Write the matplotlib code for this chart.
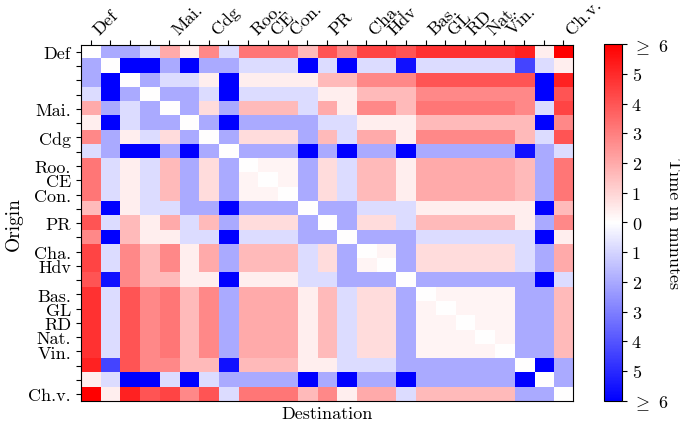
import numpy as np
import matplotlib
matplotlib.use("Agg")
from matplotlib import pyplot as plt

plt.rcParams['font.family'] = 'serif'
plt.rcParams['font.serif'] = ['cmr10', 'DejaVu Serif']
plt.rcParams['mathtext.fontset'] = 'cm'
plt.rcParams['axes.unicode_minus'] = False

# station labels (empty = unlabeled row/column)
stations = ['Def', '', '', '', 'Mai.', '', 'Cdg', '', 'Roo.', 'CE', 'Con.', '', 'PR', '',
            'Cha.', 'Hdv', '', 'Bas.', 'GL', 'RD', 'Nat.', 'Vin.', '', '', 'Ch.v.']

# time difference in minutes, origin rows x destination columns
row_def = [0, -2, -2, -0.8, 2, 0.4, 2.8, -0.8, 3.2, 3.2, 3.2, 1.6, 4, 2.8, 4.4, 4.4, 4, 4.8, 4.8, 4.8, 4.8, 4.8, 5.2, 0.4, 6]
row_01 = [-2, 0, -6, -6, -2, -6, -2, -2, -0.8, -0.8, -0.8, -6, -0.8, -6, -0.8, -0.8, -5.6, -0.8, -0.8, -0.8, -0.8, -0.8, -4.4, -0.8, 0.4]
row_02 = [-2, -6, 0, -2, -0.8, -0.8, 0.4, -6, 0.4, 0.4, 0.4, 0.4, 1.6, 1.6, 2.8, 2.8, 2.8, 4, 4, 4, 4, 4, 4, -6, 5.2]
row_03 = [-0.8, -6, -2, 0, -2, -2, -0.8, -6, -0.8, -0.8, -0.8, -0.8, 0.4, 0.4, 1.6, 1.6, 1.6, 2.8, 2.8, 2.8, 2.8, 2.8, 2.8, -6, 4]
row_mai = [2, -2, -0.8, -2, 0, -2, 0.8, -2, 1.6, 1.6, 1.6, -0.8, 2, 0.4, 2.8, 2.8, 1.6, 3.2, 3.2, 3.2, 3.2, 3.2, 2.8, -0.8, 4.4]
row_05 = [0.4, -6, -0.8, -2, -2, 0, -2, -6, -2, -2, -2, -2, -0.8, -0.8, 0.4, 0.4, 0.4, 1.6, 1.6, 1.6, 1.6, 1.6, 1.6, -6, 2.8]
row_cdg = [2.8, -2, 0.4, -0.8, 0.8, -2, 0, -2, 0.8, 0.8, 0.8, -2, 1.6, -0.8, 2, 2, 0.4, 2.8, 2.8, 2.8, 2.8, 2.8, 1.6, -0.8, 4]
row_07 = [-0.8, -2, -6, -6, -2, -6, -2, 0, -2, -2, -2, -6, -2, -6, -2, -2, -6, -2, -2, -2, -2, -2, -5.6, -2, -0.8]
row_roo = [3.2, -0.8, 0.4, -0.8, 1.6, -2, 0.8, -2, 0, 0.25, 0.25, -2, 0.8, -0.8, 1.6, 1.6, 0.4, 2, 2, 2, 2, 2, 1.6, -2, 3.2]
row_ce = [3.2, -0.8, 0.4, -0.8, 1.6, -2, 0.8, -2, 0.25, 0, 0.25, -2, 0.8, -0.8, 1.6, 1.6, 0.4, 2, 2, 2, 2, 2, 1.6, -2, 3.2]
row_con = [3.2, -0.8, 0.4, -0.8, 1.6, -2, 0.8, -2, 0.25, 0.25, 0, -2, 0.8, -0.8, 1.6, 1.6, 0.4, 2, 2, 2, 2, 2, 1.6, -2, 3.2]
row_11 = [1.6, -6, 0.4, -0.8, -0.8, -2, -2, -6, -2, -2, -2, 0, -2, -2, -0.8, -0.8, -0.8, 0.4, 0.4, 0.4, 0.4, 0.4, 0.4, -6, 1.6]
row_pr = [4, -0.8, 1.6, 0.4, 2, -0.8, 1.6, -2, 0.8, 0.8, 0.8, -2, 0, -2, 0.8, 0.8, -0.8, 1.6, 1.6, 1.6, 1.6, 1.6, 0.4, -2, 2.8]
row_13 = [2.8, -6, 1.6, 0.4, 0.4, -0.8, -0.8, -6, -0.8, -0.8, -0.8, -2, -2, 0, -2, -2, -2, -0.8, -0.8, -0.8, -0.8, -0.8, -0.8, -6, 0.4]
row_cha = [4.4, -0.8, 2.8, 1.6, 2.8, 0.4, 2, -2, 1.6, 1.6, 1.6, -0.8, 0.8, -2, 0, 0.25, -2, 0.8, 0.8, 0.8, 0.8, 0.8, -0.8, -2, 2]
row_hdv = [4.4, -0.8, 2.8, 1.6, 2.8, 0.4, 2, -2, 1.6, 1.6, 1.6, -0.8, 0.8, -2, 0.25, 0, -2, 0.8, 0.8, 0.8, 0.8, 0.8, -0.8, -2, 2]
row_16 = [4, -5.6, 2.8, 1.6, 1.6, 0.4, 0.4, -6, 0.4, 0.4, 0.4, -0.8, -0.8, -2, -2, -2, 0, -2, -2, -2, -2, -2, -2, -6, -0.8]
row_bas = [4.8, -0.8, 4, 2.8, 3.2, 1.6, 2.8, -2, 2, 2, 2, 0.4, 1.6, -0.8, 0.8, 0.8, -2, 0, 0.25, 0.25, 0.25, 0.25, -2, -2, 1.6]
row_gl = [4.8, -0.8, 4, 2.8, 3.2, 1.6, 2.8, -2, 2, 2, 2, 0.4, 1.6, -0.8, 0.8, 0.8, -2, 0.25, 0, 0.25, 0.25, 0.25, -2, -2, 1.6]
row_rd = [4.8, -0.8, 4, 2.8, 3.2, 1.6, 2.8, -2, 2, 2, 2, 0.4, 1.6, -0.8, 0.8, 0.8, -2, 0.25, 0.25, 0, 0.25, 0.25, -2, -2, 1.6]
row_nat = [4.8, -0.8, 4, 2.8, 3.2, 1.6, 2.8, -2, 2, 2, 2, 0.4, 1.6, -0.8, 0.8, 0.8, -2, 0.25, 0.25, 0.25, 0, 0.25, -2, -2, 1.6]
row_vin = [4.8, -0.8, 4, 2.8, 3.2, 1.6, 2.8, -2, 2, 2, 2, 0.4, 1.6, -0.8, 0.8, 0.8, -2, 0.25, 0.25, 0.25, 0.25, 0, -2, -2, 1.6]
row_22 = [5.2, -4.4, 4, 2.8, 2.8, 1.6, 1.6, -5.6, 1.6, 1.6, 1.6, 0.4, 0.4, -0.8, -0.8, -0.8, -2, -2, -2, -2, -2, -2, 0, -6, -2]
row_23 = [0.4, -0.8, -6, -6, -0.8, -6, -0.8, -2, -2, -2, -2, -6, -2, -6, -2, -2, -6, -2, -2, -2, -2, -2, -6, 0, -2]
row_chv = [6, 0.4, 5.2, 4, 4.4, 2.8, 4, -0.8, 3.2, 3.2, 3.2, 1.6, 2.8, 0.4, 2, 2, -0.8, 1.6, 1.6, 1.6, 1.6, 1.6, -2, -2, 0]

times = np.array([row_def, row_01, row_02, row_03, row_mai, row_05, row_cdg, row_07,
                  row_roo, row_ce, row_con, row_11, row_pr, row_13, row_cha, row_hdv,
                  row_16, row_bas, row_gl, row_rd, row_nat, row_vin, row_22, row_23, row_chv])

cbar_ticks = [-6, -5, -4, -3, -2, -1, 0, 1, 2, 3, 4, 5, 6]
cbar_labels = [r'$\geq$ 6', '5', '4', '3', '2', '1', '0', '1', '2', '3', '4', '5', r'$\geq$ 6']

fig = plt.figure(figsize=(6.8, 4.27), dpi=100)
ax = fig.add_axes([0.1187, 0.0578, 0.7244, 0.835])
im = ax.imshow(times, cmap='bwr', vmin=-6, vmax=6, aspect='auto', interpolation='nearest')

n = len(stations)
ax.set_xticks(range(n))
ax.set_yticks(range(n))
ax.xaxis.tick_top()
ax.set_xticklabels(stations, rotation=45, ha='left', va='bottom', fontsize=13)
ax.set_yticklabels(stations, fontsize=13)
ax.tick_params(axis='x', pad=2)
ax.set_xlabel('Destination', fontsize=13, labelpad=3)
ax.xaxis.set_label_position('bottom')
ax.set_ylabel('Origin', fontsize=14)

cax = fig.add_axes([0.888, 0.0593, 0.0269, 0.835])
cb = fig.colorbar(im, cax=cax, ticks=cbar_ticks)
cb.ax.set_yticklabels(cbar_labels, fontsize=13)
cb.set_label('Time in minutes', rotation=270, fontsize=13, labelpad=9)

fig.savefig('out.png', dpi=100)
